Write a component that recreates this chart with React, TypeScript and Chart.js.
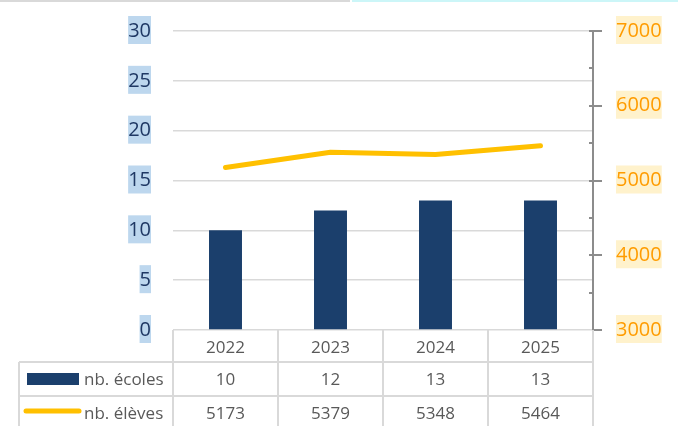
import { useEffect, useRef } from "react";
import { Chart, registerables } from "chart.js";

Chart.register(...registerables);

const years = ["2022", "2023", "2024", "2025"];
const schools = [10, 12, 13, 13];
const students = [5173, 5379, 5348, 5464];
const schoolsLabel = "nb. écoles";
const studentsLabel = "nb. élèves";
const leftMin = 0;
const leftMax = 30;
const leftStep = 5;
const rightMin = 3000;
const rightMax = 7000;
const rightStep = 1000;
const rightMinorStep = 500;

const BAR_COLOR = "#1B3F6C";
const LINE_COLOR = "#FFC000";
const LEFT_TICK_COLOR = "#1F3864";
const LEFT_TICK_BG = "#BDD7EE";
const RIGHT_TICK_COLOR = "#FF9C00";
const RIGHT_TICK_BG = "#FFF2CC";
const GRID_COLOR = "#D9D9D9";
const AXIS_COLOR = "#8C8C8C";
const TABLE_TEXT = "#595959";
const FONT = '"Open Sans", "Noto Sans", sans-serif';
const TICK_SIZE = 20;
const TABLE_SIZE = 17;

const fmt = (v: number | string) => String(v);

const decorPlugin = {
  id: "decor",
  beforeDraw(chart: any) {
    const ctx: CanvasRenderingContext2D = chart.ctx;
    ctx.save();
    // page artefact lines at top
    ctx.fillStyle = "#D9D9D9";
    ctx.fillRect(0, 0, 350, 2);
    ctx.fillStyle = "#CCF6F8";
    ctx.fillRect(352, 0, 326, 2);

    ctx.font = `${TICK_SIZE}px ${FONT}`;
    const ys = chart.scales.y;
    ys.ticks.forEach((t: any) => {
      const label = fmt(t.value);
      const w = ctx.measureText(label).width;
      const py = ys.getPixelForValue(t.value);
      ctx.fillStyle = LEFT_TICK_BG;
      ctx.fillRect(ys.right - 22 - w, py - 15, w, 28);
    });
    const ys1 = chart.scales.y1;
    ys1.ticks.forEach((t: any) => {
      const label = fmt(t.value);
      const w = ctx.measureText(label).width;
      const py = ys1.getPixelForValue(t.value);
      ctx.fillStyle = RIGHT_TICK_BG;
      ctx.fillRect(ys1.left + 23, py - 15, w, 28);
    });
    ctx.restore();
  },
  afterDraw(chart: any) {
    const ctx: CanvasRenderingContext2D = chart.ctx;
    const ys1 = chart.scales.y1;
    const xs = chart.scales.x;
    const area = chart.chartArea;
    ctx.save();

    // right axis tick marks
    const ax = ys1.left;
    ctx.strokeStyle = AXIS_COLOR;
    ctx.lineWidth = 2;
    for (let v = rightMin; v <= rightMax; v += rightMinorStep) {
      const py = Math.round(ys1.getPixelForValue(v));
      const major = (v - rightMin) % rightStep === 0;
      ctx.beginPath();
      if (major) {
        ctx.moveTo(v === rightMin ? ax : ax - 4, py);
        ctx.lineTo(ax + 9, py);
      } else {
        ctx.moveTo(ax - 4, py);
        ctx.lineTo(ax + 1, py);
      }
      ctx.stroke();
    }

    // data table
    const n = years.length;
    const left = xs.left;
    const right = xs.right;
    const cw = (right - left) / n;
    const top = area.bottom;
    const r1 = 362;
    const r2 = 396;
    const r3 = 430;
    const tableLeft = 19;

    ctx.strokeStyle = GRID_COLOR;
    ctx.lineWidth = 2;
    ctx.beginPath();
    ctx.moveTo(tableLeft, r1);
    ctx.lineTo(right + 1, r1);
    ctx.moveTo(tableLeft, r2);
    ctx.lineTo(right + 1, r2);
    ctx.moveTo(tableLeft, r1);
    ctx.lineTo(tableLeft, r3);
    for (let i = 0; i <= n; i++) {
      const x = Math.round(left + i * cw);
      ctx.moveTo(x, top);
      ctx.lineTo(x, r3);
    }
    ctx.stroke();

    ctx.fillStyle = TABLE_TEXT;
    ctx.font = `${TABLE_SIZE}px ${FONT}`;
    ctx.textAlign = "center";
    ctx.textBaseline = "middle";
    years.forEach((yr, i) => {
      const cx = xs.getPixelForValue(i);
      ctx.fillText(yr, cx, (top + r1) / 2 + 2);
      ctx.fillText(fmt(schools[i]), cx, (r1 + r2) / 2 + 1);
      ctx.fillText(fmt(students[i]), cx, (r2 + r3) / 2 + 1);
    });

    // legend keys
    ctx.fillStyle = BAR_COLOR;
    ctx.fillRect(27, 373, 52, 12);
    ctx.strokeStyle = LINE_COLOR;
    ctx.lineWidth = 5;
    ctx.lineCap = "round";
    ctx.beginPath();
    ctx.moveTo(26, 411);
    ctx.lineTo(79, 411);
    ctx.stroke();

    ctx.fillStyle = TABLE_TEXT;
    ctx.textAlign = "left";
    ctx.fillText(schoolsLabel, 84, (r1 + r2) / 2 + 1);
    ctx.fillText(studentsLabel, 84, (r2 + r3) / 2 + 1);

    ctx.restore();
  },
};

export default function App() {
  const ref = useRef<HTMLCanvasElement | null>(null);

  useEffect(() => {
    if (!ref.current) return;
    const chart = new Chart(ref.current, {
      type: "bar",
      data: {
        labels: years,
        datasets: [
          {
            type: "line",
            label: studentsLabel,
            data: students,
            yAxisID: "y1",
            borderColor: LINE_COLOR,
            backgroundColor: LINE_COLOR,
            borderWidth: 5,
            borderCapStyle: "round",
            borderJoinStyle: "round",
            pointRadius: 0,
            tension: 0,
          } as any,
          {
            type: "bar",
            label: schoolsLabel,
            data: schools,
            yAxisID: "y",
            backgroundColor: BAR_COLOR,
            barPercentage: 0.314,
            categoryPercentage: 1,
          } as any,
        ],
      },
      options: {
        responsive: false,
        animation: false,
        layout: { padding: { top: 31, left: 0, right: 0, bottom: 0 } },
        plugins: {
          legend: { display: false },
          tooltip: { enabled: false },
        },
        scales: {
          x: {
            type: "category",
            offset: true,
            grid: { display: false },
            border: { display: false },
            ticks: { display: false },
            afterFit: (s: any) => {
              s.height = 96;
              s.paddingLeft = 0;
              s.paddingRight = 0;
            },
          },
          y: {
            type: "linear",
            position: "left",
            min: leftMin,
            max: leftMax,
            ticks: {
              stepSize: leftStep,
              color: LEFT_TICK_COLOR,
              font: { family: FONT, size: TICK_SIZE },
              padding: 22,
              callback: (v: any) => fmt(v),
            },
            grid: { color: GRID_COLOR, lineWidth: 1.5, drawTicks: false },
            border: { display: false },
            afterFit: (s: any) => {
              s.width = 173;
              s.paddingTop = 0;
              s.paddingBottom = 0;
            },
          },
          y1: {
            type: "linear",
            position: "right",
            min: rightMin,
            max: rightMax,
            ticks: {
              stepSize: rightStep,
              color: RIGHT_TICK_COLOR,
              font: { family: FONT, size: TICK_SIZE },
              padding: 23,
              callback: (v: any) => fmt(v),
            },
            grid: { drawOnChartArea: false, drawTicks: false },
            border: { display: true, color: AXIS_COLOR, width: 2 },
            afterFit: (s: any) => {
              s.width = 85;
              s.paddingTop = 0;
              s.paddingBottom = 0;
            },
          },
        },
      } as any,
      plugins: [decorPlugin],
    });
    return () => chart.destroy();
  }, []);

  return (
    <div style={{ position: "absolute", left: 0, top: 0, width: 678, height: 426, overflow: "hidden", background: "#fff" }}>
      <canvas ref={ref} width={678} height={426} />
    </div>
  );
}
